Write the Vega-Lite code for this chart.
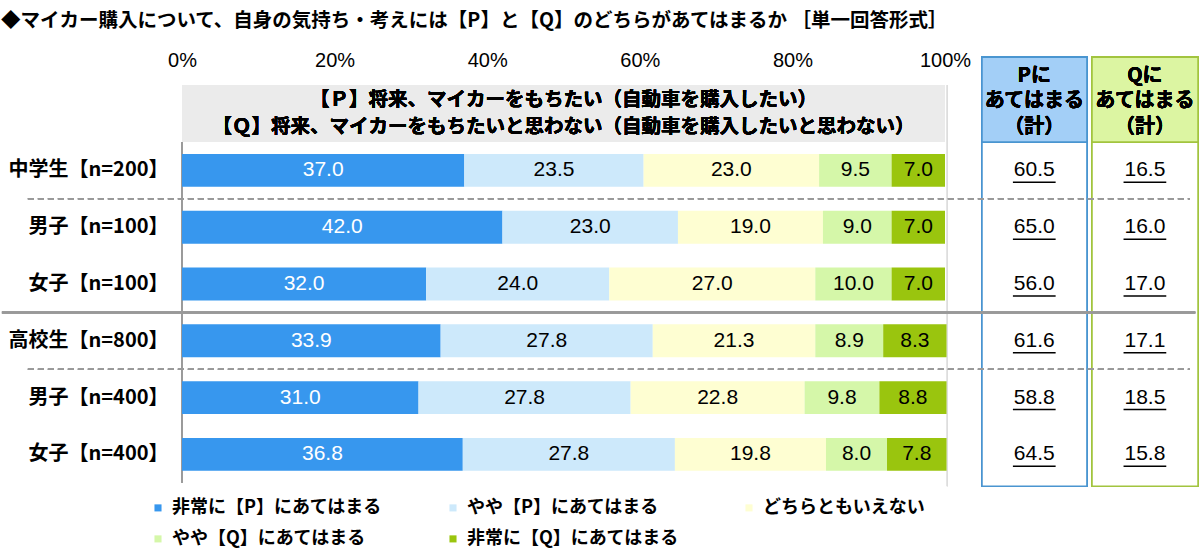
{
  "$schema": "https://vega.github.io/schema/vega-lite/v6.json",
  "autosize": "none",
  "width": 763,
  "height": 454.4,
  "padding": {"left": 182, "top": 28.4, "right": 255, "bottom": 74.2},
  "background": "white",
  "title": {
    "text": "◆マイカー購入について、自身の気持ち・考えには【P】と【Q】のどちらがあてはまるか ［単一回答形式］",
    "anchor": "start",
    "frame": "bounds",
    "font": "Noto Sans CJK JP",
    "fontSize": 19.5,
    "fontWeight": "bold",
    "color": "#000",
    "offset": -3
  },
  "config": {
    "view": {"stroke": null},
    "font": "Noto Sans CJK JP"
  },
  "datasets": {
    "bars": [
      {"g": "中学生【n=200】", "k": 1, "cat": "非常に【P】にあてはまる", "v": 37.0},
      {"g": "中学生【n=200】", "k": 2, "cat": "やや【P】にあてはまる", "v": 23.5},
      {"g": "中学生【n=200】", "k": 3, "cat": "どちらともいえない", "v": 23.0},
      {"g": "中学生【n=200】", "k": 4, "cat": "やや【Q】にあてはまる", "v": 9.5},
      {"g": "中学生【n=200】", "k": 5, "cat": "非常に【Q】にあてはまる", "v": 7.0},
      {"g": "男子【n=100】", "k": 1, "cat": "非常に【P】にあてはまる", "v": 42.0},
      {"g": "男子【n=100】", "k": 2, "cat": "やや【P】にあてはまる", "v": 23.0},
      {"g": "男子【n=100】", "k": 3, "cat": "どちらともいえない", "v": 19.0},
      {"g": "男子【n=100】", "k": 4, "cat": "やや【Q】にあてはまる", "v": 9.0},
      {"g": "男子【n=100】", "k": 5, "cat": "非常に【Q】にあてはまる", "v": 7.0},
      {"g": "女子【n=100】", "k": 1, "cat": "非常に【P】にあてはまる", "v": 32.0},
      {"g": "女子【n=100】", "k": 2, "cat": "やや【P】にあてはまる", "v": 24.0},
      {"g": "女子【n=100】", "k": 3, "cat": "どちらともいえない", "v": 27.0},
      {"g": "女子【n=100】", "k": 4, "cat": "やや【Q】にあてはまる", "v": 10.0},
      {"g": "女子【n=100】", "k": 5, "cat": "非常に【Q】にあてはまる", "v": 7.0},
      {"g": "高校生【n=800】", "k": 1, "cat": "非常に【P】にあてはまる", "v": 33.9},
      {"g": "高校生【n=800】", "k": 2, "cat": "やや【P】にあてはまる", "v": 27.8},
      {"g": "高校生【n=800】", "k": 3, "cat": "どちらともいえない", "v": 21.3},
      {"g": "高校生【n=800】", "k": 4, "cat": "やや【Q】にあてはまる", "v": 8.9},
      {"g": "高校生【n=800】", "k": 5, "cat": "非常に【Q】にあてはまる", "v": 8.3},
      {"g": "男子【n=400】", "k": 1, "cat": "非常に【P】にあてはまる", "v": 31.0},
      {"g": "男子【n=400】", "k": 2, "cat": "やや【P】にあてはまる", "v": 27.8},
      {"g": "男子【n=400】", "k": 3, "cat": "どちらともいえない", "v": 22.8},
      {"g": "男子【n=400】", "k": 4, "cat": "やや【Q】にあてはまる", "v": 9.8},
      {"g": "男子【n=400】", "k": 5, "cat": "非常に【Q】にあてはまる", "v": 8.8},
      {"g": "女子【n=400】", "k": 1, "cat": "非常に【P】にあてはまる", "v": 36.8},
      {"g": "女子【n=400】", "k": 2, "cat": "やや【P】にあてはまる", "v": 27.8},
      {"g": "女子【n=400】", "k": 3, "cat": "どちらともいえない", "v": 19.8},
      {"g": "女子【n=400】", "k": 4, "cat": "やや【Q】にあてはまる", "v": 8.0},
      {"g": "女子【n=400】", "k": 5, "cat": "非常に【Q】にあてはまる", "v": 7.8}
    ],
    "totals": [
      {"g": "中学生【n=200】", "P": 60.5, "Q": 16.5},
      {"g": "男子【n=100】", "P": 65.0, "Q": 16.0},
      {"g": "女子【n=100】", "P": 56.0, "Q": 17.0},
      {"g": "高校生【n=800】", "P": 61.6, "Q": 17.1},
      {"g": "男子【n=400】", "P": 58.8, "Q": 18.5},
      {"g": "女子【n=400】", "P": 64.5, "Q": 15.8}
    ]
  },
  "data": {"name": "totals"},
  "encoding": {
    "y": {
      "type": "nominal",
      "scale": {
        "type": "band",
        "domain": ["axis", "header", "中学生【n=200】", "男子【n=100】", "女子【n=100】", "高校生【n=800】", "男子【n=400】", "女子【n=400】"],
        "paddingInner": 0,
        "paddingOuter": 0
      }
    },
    "x": {
      "type": "quantitative",
      "scale": {"domain": [0, 100], "nice": false, "zero": false}
    }
  },
  "layer": [
    {
      "mark": {"type": "rect", "fill": "#EBEBEB"},
      "encoding": {
        "x": {"datum": 0, "type": "quantitative"},
        "x2": {"datum": 100},
        "y": {"datum": "header", "type": "nominal"}
      }
    },
    {
      "mark": {"type": "text", "fontSize": 19.5, "fontWeight": "bold", "color": "#000", "lineHeight": 27, "baseline": "middle"},
      "encoding": {
        "x": {"datum": 50, "type": "quantitative"},
        "y": {"datum": "header", "type": "nominal", "bandPosition": 0.26},
        "text": {"value": ["【Ｐ】将来、マイカーをもちたい（自動車を購入したい）", "【Ｑ】将来、マイカーをもちたいと思わない（自動車を購入したいと思わない）"]}
      }
    },
    {
      "mark": {"type": "rule", "color": "#999", "strokeWidth": 1},
      "encoding": {
        "x": {"datum": 0, "type": "quantitative"},
        "y": {"datum": "header", "type": "nominal", "bandPosition": 1},
        "y2": {"datum": "女子【n=400】", "bandPosition": 1}
      }
    },
    {
      "mark": {"type": "rule", "color": "#DDD", "strokeWidth": 1},
      "encoding": {
        "x": {"datum": 100.3, "type": "quantitative"},
        "y": {"datum": "header", "type": "nominal", "bandPosition": 0},
        "y2": {"datum": "女子【n=400】", "bandPosition": 1.06}
      }
    },
    {
      "data": {"name": "bars"},
      "mark": {"type": "bar", "height": {"band": 0.58}},
      "encoding": {
        "x": {
          "field": "v", "type": "quantitative", "stack": "zero",
          "axis": {
            "orient": "top", "values": [0, 20, 40, 60, 80, 100],
            "labelExpr": "datum.value + '%'",
            "grid": false, "ticks": false, "domain": false, "tickSize": 0,
            "offset": -44, "labelPadding": 2,
            "labelFont": "Liberation Sans", "labelFontSize": 20, "labelColor": "#000",
            "labelFlush": false, "labelOverlap": false, "title": null
          }
        },
        "y": {
          "field": "g", "type": "nominal",
          "axis": {
            "labelExpr": "datum.value == 'axis' || datum.value == 'header' ? '' : datum.value",
            "ticks": false, "domain": false, "title": null,
            "labelFontSize": 20, "labelFontWeight": "bold", "labelColor": "#000",
            "labelPadding": 14, "labelFont": "Noto Sans CJK JP"
          }
        },
        "order": {"field": "k", "type": "quantitative"},
        "color": {
          "field": "cat", "type": "nominal",
          "scale": {
            "domain": ["非常に【P】にあてはまる", "やや【P】にあてはまる", "どちらともいえない", "やや【Q】にあてはまる", "非常に【Q】にあてはまる"],
            "range": ["#3797EE", "#CDE9FB", "#FEFED2", "#D5F7A9", "#9AC50E"]
          },
          "legend": {
            "orient": "none", "legendX": -33, "legendY": 470.5,
            "direction": "horizontal", "columns": 3, "gridAlign": "each",
            "columnPadding": 61, "rowPadding": 13,
            "title": null, "symbolType": "square", "symbolSize": 50, "symbolStrokeWidth": 0,
            "labelFont": "Noto Sans CJK JP", "labelFontSize": 18, "labelFontWeight": "bold",
            "labelColor": "#000", "labelLimit": 400, "labelOffset": 5
          }
        }
      }
    },
    {
      "data": {"name": "bars"},
      "mark": {"type": "text", "font": "Liberation Sans", "fontSize": 21, "baseline": "middle"},
      "encoding": {
        "x": {"field": "v", "type": "quantitative", "stack": "zero", "bandPosition": 0.5},
        "y": {"field": "g", "type": "nominal"},
        "order": {"field": "k", "type": "quantitative"},
        "text": {"field": "v", "type": "quantitative", "format": ".1f"},
        "color": {"condition": {"test": "datum.k === 1", "value": "#FFFFFF"}, "value": "#000000"}
      }
    },
    {
      "mark": {"type": "rect", "fill": "white", "stroke": "#4A95D0", "strokeWidth": 1.5},
      "encoding": {
        "x": {"datum": 104.85, "type": "quantitative"},
        "x2": {"datum": 118.6},
        "y": {"datum": "axis", "type": "nominal", "bandPosition": 0.51},
        "y2": {"datum": "女子【n=400】", "bandPosition": 1.06}
      }
    },
    {
      "mark": {"type": "rect", "fill": "#A3CFF7", "stroke": "#4A95D0", "strokeWidth": 1.5},
      "encoding": {
        "x": {"datum": 104.85, "type": "quantitative"},
        "x2": {"datum": 118.6},
        "y": {"datum": "axis", "type": "nominal", "bandPosition": 0.51},
        "y2": {"datum": "header", "bandPosition": 1}
      }
    },
    {
      "mark": {"type": "rect", "fill": "white", "stroke": "#A2C43F", "strokeWidth": 1.5},
      "encoding": {
        "x": {"datum": 119.27, "type": "quantitative"},
        "x2": {"datum": 133.16},
        "y": {"datum": "axis", "type": "nominal", "bandPosition": 0.51},
        "y2": {"datum": "女子【n=400】", "bandPosition": 1.06}
      }
    },
    {
      "mark": {"type": "rect", "fill": "#DCF5A2", "stroke": "#A2C43F", "strokeWidth": 1.5},
      "encoding": {
        "x": {"datum": 119.27, "type": "quantitative"},
        "x2": {"datum": 133.16},
        "y": {"datum": "axis", "type": "nominal", "bandPosition": 0.51},
        "y2": {"datum": "header", "bandPosition": 1}
      }
    },
    {
      "mark": {"type": "text", "fontSize": 20, "fontWeight": "bold", "color": "#000", "lineHeight": 25.5, "baseline": "middle"},
      "encoding": {
        "x": {"datum": 111.7, "type": "quantitative"},
        "y": {"datum": "axis", "type": "nominal", "bandPosition": 0.83},
        "text": {"value": ["Pに", "あてはまる", "（計）"]}
      }
    },
    {
      "mark": {"type": "text", "fontSize": 20, "fontWeight": "bold", "color": "#000", "lineHeight": 25.5, "baseline": "middle"},
      "encoding": {
        "x": {"datum": 126.2, "type": "quantitative"},
        "y": {"datum": "axis", "type": "nominal", "bandPosition": 0.83},
        "text": {"value": ["Qに", "あてはまる", "（計）"]}
      }
    },
    {
      "mark": {"type": "rule", "color": "#999", "strokeWidth": 1.5, "strokeDash": [6, 4]},
      "encoding": {
        "x": {"datum": -20.2, "type": "quantitative"},
        "x2": {"datum": 132.1},
        "y": {"datum": "中学生【n=200】", "type": "nominal", "bandPosition": 1}
      }
    },
    {
      "mark": {"type": "rule", "color": "#999", "strokeWidth": 1.5, "strokeDash": [6, 4]},
      "encoding": {
        "x": {"datum": -20.2, "type": "quantitative"},
        "x2": {"datum": 132.1},
        "y": {"datum": "高校生【n=800】", "type": "nominal", "bandPosition": 1}
      }
    },
    {
      "mark": {"type": "rule", "color": "#999", "strokeWidth": 2},
      "encoding": {
        "x": {"datum": -23.6, "type": "quantitative"},
        "x2": {"datum": 132.8},
        "y": {"datum": "女子【n=100】", "type": "nominal", "bandPosition": 1}
      }
    },
    {
      "mark": {"type": "text", "font": "Liberation Sans", "fontSize": 21, "color": "#000", "baseline": "middle"},
      "encoding": {
        "x": {"datum": 111.7, "type": "quantitative"},
        "y": {"field": "g", "type": "nominal"},
        "text": {"field": "P", "type": "quantitative", "format": ".1f"}
      }
    },
    {
      "mark": {"type": "text", "font": "Liberation Sans", "fontSize": 21, "color": "#000", "baseline": "middle"},
      "encoding": {
        "x": {"datum": 126.2, "type": "quantitative"},
        "y": {"field": "g", "type": "nominal"},
        "text": {"field": "Q", "type": "quantitative", "format": ".1f"}
      }
    },
    {
      "mark": {"type": "rule", "color": "#000", "strokeWidth": 1.5},
      "encoding": {
        "x": {"datum": 108.9, "type": "quantitative"},
        "x2": {"datum": 114.5},
        "y": {"field": "g", "type": "nominal", "bandPosition": 0.71}
      }
    },
    {
      "mark": {"type": "rule", "color": "#000", "strokeWidth": 1.5},
      "encoding": {
        "x": {"datum": 123.4, "type": "quantitative"},
        "x2": {"datum": 129.0},
        "y": {"field": "g", "type": "nominal", "bandPosition": 0.71}
      }
    }
  ]
}
